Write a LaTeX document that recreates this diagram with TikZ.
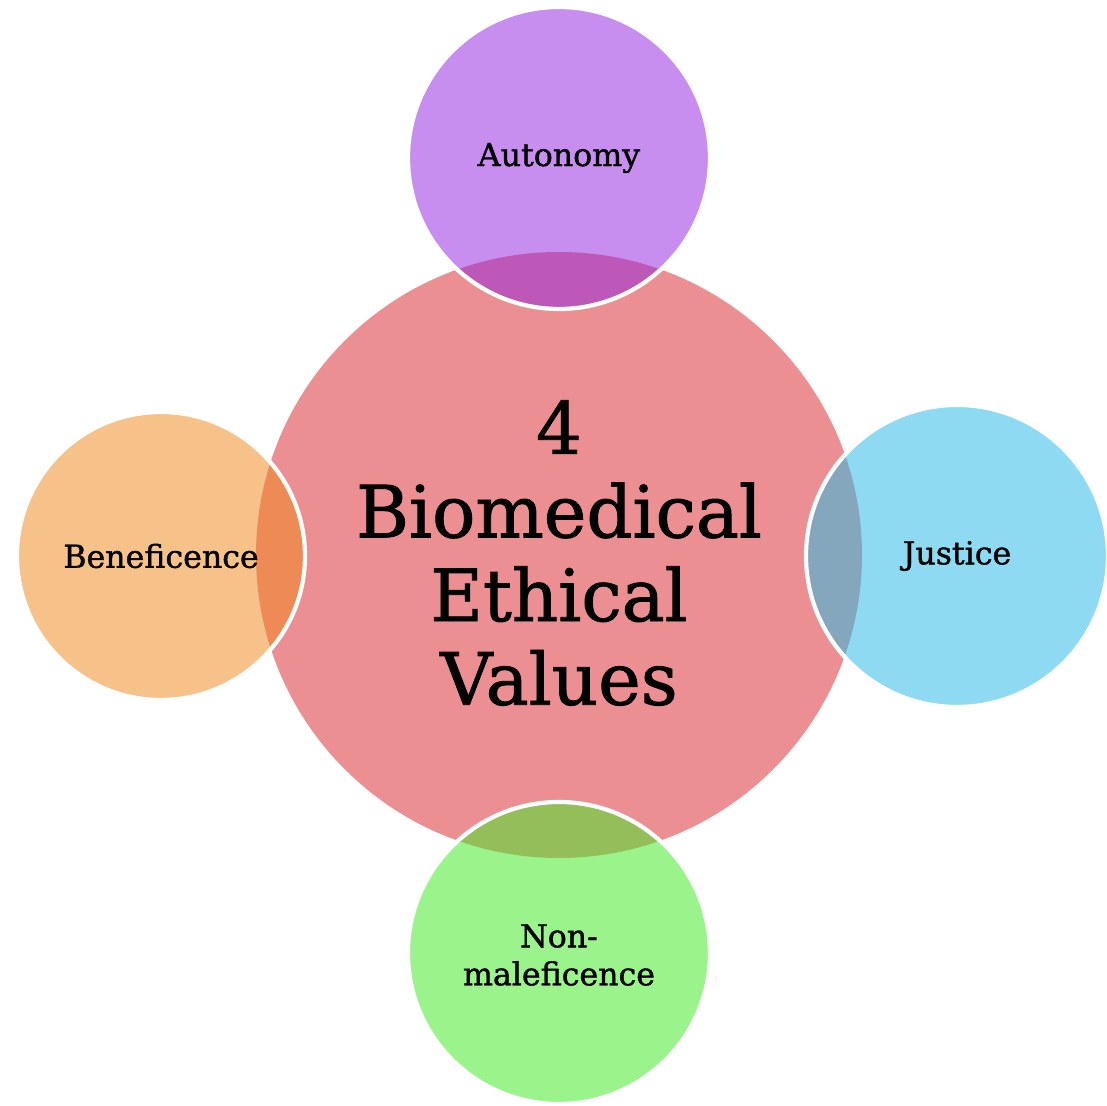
\documentclass[tikz,border=0pt]{standalone}
\usepackage{fontspec}
\setmainfont{DejaVu Serif}
\newfontfamily\heavyserif[FakeBold=1.2]{DejaVu Serif}
\definecolor{cpink}{RGB}{236,143,146}
\definecolor{caut}{RGB}{199,141,239}
\definecolor{cben}{RGB}{247,193,138}
\definecolor{cjus}{RGB}{142,218,242}
\definecolor{cnon}{RGB}{155,244,139}
\definecolor{oaut}{RGB}{190,88,184}
\definecolor{oben}{RGB}{238,138,85}
\definecolor{ojus}{RGB}{132,167,190}
\definecolor{onon}{RGB}{148,190,89}
\tikzset{
  bigdisc/.style={circle, inner sep=0pt, minimum size=6.06cm, fill=cpink},
  smalldisc/.style={circle, inner sep=0pt, minimum size=3.02cm},
  rim/.style={draw=white, line width=1.2pt},
  bigtext/.style={align=center, font=\heavyserif\fontsize{20.5}{23.8}\selectfont},
  smalltext/.style={align=center, font=\heavyserif\fontsize{9}{10.8}\selectfont},
}
\begin{document}
\begin{tikzpicture}
\useasboundingbox (0,0) rectangle (11.07,-11.06);
\node[bigdisc] (core) at (5.59,-5.55) {};
\node[smalldisc, fill=caut] (aut) at (5.59,-1.58) {};
\node[smalldisc, fill=cben, minimum size=2.88cm] (ben) at (1.61,-5.56) {};
\node[smalldisc, fill=cjus] (jus) at (9.57,-5.56) {};
\node[smalldisc, fill=cnon] (non) at (5.59,-9.53) {};
\begin{scope}
  \clip (core.center) circle (3.03cm);
  \fill[oaut] (aut.center) circle (1.51cm);
  \fill[oben] (ben.center) circle (1.44cm);
  \fill[ojus] (jus.center) circle (1.51cm);
  \fill[onon] (non.center) circle (1.51cm);
\end{scope}
\draw[rim] (aut.center) circle (1.51cm);
\draw[rim] (ben.center) circle (1.44cm);
\draw[rim] (jus.center) circle (1.51cm);
\draw[rim] (non.center) circle (1.51cm);
\node[bigtext] (coretext) at (5.59,-5.53) {4\\Biomedical\\Ethical\\Values};
\node[smalltext] (auttext) at (aut.center) {Autonomy};
\node[smalltext] (bentext) at (ben.center) {Beneficence};
\node[smalltext] (justext) at (jus.center) {Justice};
\node[smalltext] (nontext) at (5.59,-9.55) {Non-\\maleficence};
\end{tikzpicture}
\end{document}
